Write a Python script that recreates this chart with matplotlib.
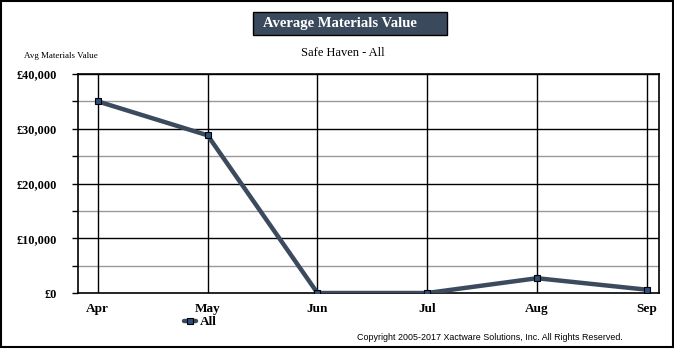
import matplotlib
matplotlib.use("Agg")
import matplotlib.pyplot as plt
from matplotlib.patches import Rectangle
from matplotlib.ticker import FuncFormatter

months = ["Apr", "May", "Jun", "Jul", "Aug", "Sep"]
values = [35000, 28800, 0, 0, 2700, 600]
major_ticks = [0, 10000, 20000, 30000, 40000]
minor_ticks = [5000, 15000, 25000, 35000]

LINE_COLOR = "#3b4b5d"
MARKER_COLOR = "#2c4f7c"

plt.rcParams["font.family"] = ["Liberation Serif", "DejaVu Serif"]

fig = plt.figure(figsize=(6.74, 3.5), dpi=100)
ax = fig.add_axes([78 / 674, 1 - 293 / 350, 581 / 674, 219 / 350])

x = list(range(len(months)))
ax.plot(x, values, color=LINE_COLOR, linewidth=3.2, marker="s", markersize=5,
        markerfacecolor=MARKER_COLOR, markeredgecolor="black", markeredgewidth=0.8,
        zorder=3, label="All", solid_capstyle="round")

ax.set_xlim(-0.18, 5.11)
ax.set_ylim(0, 40000)
ax.set_yticks(major_ticks)
ax.set_yticks(minor_ticks, minor=True)
ax.yaxis.set_major_formatter(FuncFormatter(lambda v, p: f"£{int(v):,}"))
ax.set_xticks(x)
ax.set_xticklabels(months)

for yv in minor_ticks:
    ax.axhline(yv, color="#999999", linewidth=1, zorder=1)
for yv in major_ticks[1:]:
    ax.axhline(yv, color="black", linewidth=1, zorder=1)
for xv in x:
    ax.axvline(xv, color="black", linewidth=1, zorder=1)

for s in ax.spines.values():
    s.set_linewidth(1.2)
ax.tick_params(axis="y", which="both", length=4, width=1, labelsize=8.8, pad=11)
ax.tick_params(axis="x", length=0, labelsize=9.5, pad=7)
for lbl in ax.get_xticklabels() + ax.get_yticklabels():
    lbl.set_fontweight("bold")

# title box
fig.patches.append(Rectangle((253 / 674, 1 - 35 / 350), 194 / 674, 23 / 350,
                             transform=fig.transFigure, facecolor="#3a4a5c",
                             edgecolor="black", linewidth=1))
fig.text(263 / 674, 1 - 23.5 / 350, "Average Materials Value", color="white",
         fontsize=10.5, fontweight="bold", ha="left", va="center")
fig.text(343 / 674, 1 - 53 / 350, "Safe Haven - All", fontsize=9,
         ha="center", va="center")
fig.text(24 / 674, 1 - 56 / 350, "Avg Materials Value", fontsize=6.5,
         ha="left", va="center")

ax.legend(loc="upper left", bbox_to_anchor=(184 / 674, 1 - 316 / 350),
          bbox_transform=fig.transFigure, frameon=False, handlelength=0.9,
          handletextpad=0.3, borderpad=0, borderaxespad=0,
          prop={"weight": "bold", "size": 9.5})

fig.text(357 / 674, 1 - 337 / 350,
         "Copyright 2005-2017 Xactware Solutions, Inc. All Rights Reserved.",
         fontsize=6.4, family="Liberation Sans", ha="left", va="center")

# outer border
fig.patches.append(Rectangle((0.5 / 674, 1 - 347 / 350), 672 / 674, 346.5 / 350,
                             transform=fig.transFigure, facecolor="none",
                             edgecolor="black", linewidth=1.5))

fig.savefig("out.png", dpi=100)
